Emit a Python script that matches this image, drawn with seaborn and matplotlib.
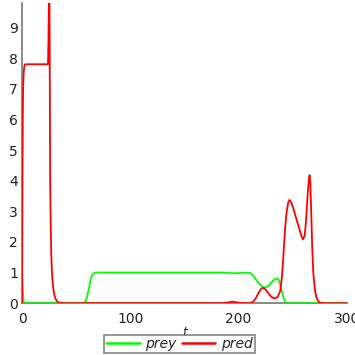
import pandas as pd
import seaborn as sns
import matplotlib
matplotlib.use("Agg")
import matplotlib.pyplot as plt
from matplotlib.ticker import MultipleLocator

# predator curve
t_pred = [0, 0.3, 0.7, 1.0, 1.5, 2.0, 2.5, 3.0, 10, 20, 24.0, 24.4, 24.8, 25.2,
          25.6, 26.0, 26.5, 27.0, 27.5, 28.0, 29.0, 30.0, 31.0, 32.0, 33.5, 35.0,
          40, 100, 185, 190, 194, 198, 202, 206, 210, 212, 214, 216, 218, 220,
          222, 224, 226, 228, 230, 232, 234, 236, 238, 238.6, 240, 241, 242, 243,
          244, 245, 246, 247, 248, 249, 250, 252, 254, 256, 258, 259.5, 261, 262,
          263, 264, 265, 265.6, 266.3, 267, 268, 269, 270, 271, 272, 273, 274,
          275, 276, 278, 280, 300]
pred = [0, 3.5, 6.0, 7.0, 7.5, 7.7, 7.78, 7.8, 7.8, 7.8, 7.8, 8.5, 9.8, 11.0,
        8.0, 4.0, 2.6, 1.6, 1.15, 0.8, 0.45, 0.25, 0.14, 0.08, 0.03, 0.01,
        0, 0, 0, 0.02, 0.05, 0.03, 0.005, 0, 0, 0.02, 0.07, 0.17, 0.3, 0.43,
        0.5, 0.48, 0.4, 0.3, 0.22, 0.17, 0.16, 0.2, 0.35, 0.42, 0.85, 1.3, 1.9, 2.45,
        2.85, 3.12, 3.3, 3.37, 3.33, 3.25, 3.15, 2.92, 2.68, 2.44, 2.2, 2.08, 2.2, 2.55,
        3.1, 3.65, 4.05, 4.18, 3.9, 3.1, 1.85, 1.0, 0.6, 0.33, 0.18, 0.1, 0.05,
        0.025, 0.01, 0.003, 0, 0]

# prey curve
t_prey = [0, 0.5, 1.0, 1.5, 2.0, 55, 57, 58.5, 60, 61, 62, 63, 64, 65, 66, 68,
          100, 185, 190, 195, 200, 205, 210, 212, 214, 216, 218, 220, 222, 224,
          226, 228, 230, 232, 234, 235.5, 237, 238.5, 240, 241, 242, 243, 244,
          246, 250, 300]
prey = [1.0, 0.6, 0.25, 0.08, 0.0, 0, 0.01, 0.05, 0.2, 0.35, 0.52, 0.7, 0.85, 0.93,
        0.97, 1.0, 1.0, 1.0, 0.99, 0.975, 0.98, 0.995, 0.99, 0.96, 0.88, 0.78,
        0.68, 0.6, 0.54, 0.51, 0.53, 0.58, 0.66, 0.74, 0.79, 0.81, 0.77, 0.6,
        0.38, 0.25, 0.13, 0.06, 0.02, 0.0, 0, 0]

x_ticks = [0, 100, 200, 300]
y_ticks = list(range(10))

df_prey = pd.DataFrame({"t": t_prey, "value": prey})
df_pred = pd.DataFrame({"t": t_pred, "value": pred})

sns.set_theme(style="white")
plt.rcParams['font.family'] = ['DejaVu Sans']

fig = plt.figure(figsize=(3.55, 3.55), dpi=100)
ax = fig.add_axes([0.062, 0.146, 0.915, 0.8455])

sns.lineplot(data=df_prey, x="t", y="value", estimator=None, sort=False,
             color="#00ff00", lw=1.3, label="prey", ax=ax)
sns.lineplot(data=df_pred, x="t", y="value", estimator=None, sort=False,
             color="#ff0000", lw=1.3, label="pred", ax=ax)

ax.set_xlim(0, 300)
ax.set_ylim(0, 9.8)
ax.set_xticks(x_ticks)
ax.set_yticks(y_ticks)
ax.xaxis.set_minor_locator(MultipleLocator(50))
ax.yaxis.set_minor_locator(MultipleLocator(0.5))
ax.tick_params(which="major", direction="inout", length=4, width=1,
               color="#555555", labelsize=10, labelcolor="#222222", pad=1)
ax.tick_params(which="minor", direction="inout", length=3, width=0.8,
               color="#555555")
ax.tick_params(axis="x", pad=4)
for side in ["top", "right"]:
    ax.spines[side].set_visible(False)
for side in ["left", "bottom"]:
    ax.spines[side].set_color("#777777")
    ax.spines[side].set_linewidth(1.2)
    ax.spines[side].set_zorder(0.5)

ax.set_xlabel("t", fontstyle="italic", fontsize=9, labelpad=0)
ax.set_ylabel("")

ax.get_legend().remove()
handles, labels = ax.get_legend_handles_labels()
leg = fig.legend(handles, labels, loc="center", bbox_to_anchor=(0.506, 0.03),
                 ncol=2, frameon=True, fancybox=False, edgecolor="#666666",
                 prop={"style": "italic", "size": 10}, handlelength=2.4,
                 borderpad=0.15, columnspacing=0.4, handletextpad=0.4)
leg.get_frame().set_linewidth(1.2)
for line in leg.get_lines():
    line.set_linewidth(1.8)

fig.savefig("out.png", dpi=100)
